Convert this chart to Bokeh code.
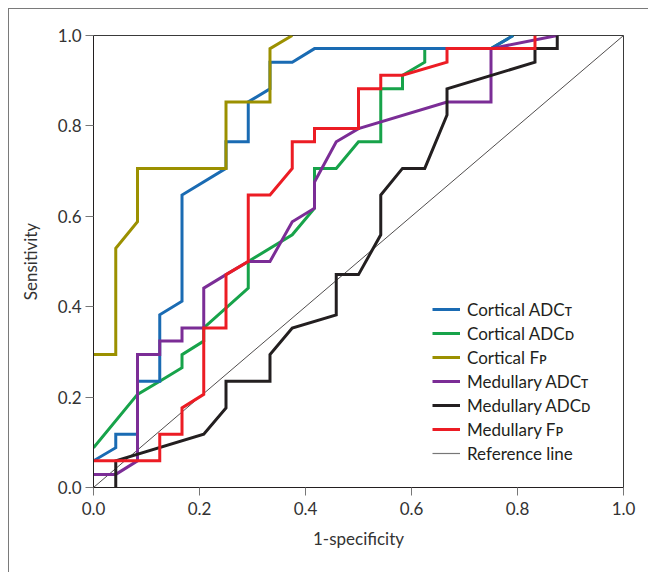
from bokeh.plotting import figure
from bokeh.models import Range1d, FixedTicker, Legend, LegendItem, NumeralTickFormatter
from bokeh.embed import file_html
from bokeh.resources import INLINE

# ---- data ----
tick_values = [0.0, 0.2, 0.4, 0.6, 0.8, 1.0]

cort_adct_x = [0, 0.042, 0.042, 0.083, 0.083, 0.125, 0.125, 0.167, 0.167, 0.25, 0.25, 0.292, 0.292, 0.333, 0.333, 0.375, 0.417, 0.75, 0.792]
cort_adct_y = [0.059, 0.088, 0.118, 0.118, 0.235, 0.235, 0.382, 0.412, 0.647, 0.706, 0.765, 0.765, 0.853, 0.882, 0.941, 0.941, 0.971, 0.971, 1.0]

cort_adcd_x = [0, 0.083, 0.125, 0.167, 0.167, 0.208, 0.208, 0.292, 0.292, 0.375, 0.417, 0.417, 0.458, 0.5, 0.542, 0.542, 0.583, 0.583, 0.625, 0.625, 0.75, 0.792]
cort_adcd_y = [0.088, 0.206, 0.235, 0.265, 0.294, 0.324, 0.353, 0.441, 0.5, 0.559, 0.618, 0.706, 0.706, 0.765, 0.765, 0.882, 0.882, 0.912, 0.941, 0.971, 0.971, 1.0]

cort_fp_x = [0, 0.042, 0.042, 0.083, 0.083, 0.25, 0.25, 0.333, 0.333, 0.375]
cort_fp_y = [0.294, 0.294, 0.529, 0.588, 0.706, 0.706, 0.853, 0.853, 0.971, 1.0]

med_adct_x = [0, 0.042, 0.083, 0.083, 0.125, 0.125, 0.167, 0.167, 0.208, 0.208, 0.25, 0.292, 0.333, 0.375, 0.417, 0.417, 0.458, 0.5, 0.667, 0.75, 0.75, 0.875]
med_adct_y = [0.029, 0.029, 0.059, 0.294, 0.294, 0.324, 0.324, 0.353, 0.353, 0.441, 0.471, 0.5, 0.5, 0.588, 0.618, 0.676, 0.765, 0.794, 0.853, 0.853, 0.971, 1.0]

med_adcd_x = [0.042, 0.042, 0.208, 0.25, 0.25, 0.333, 0.333, 0.375, 0.458, 0.458, 0.5, 0.542, 0.542, 0.583, 0.625, 0.667, 0.667, 0.833, 0.833, 0.875, 0.875]
med_adcd_y = [0, 0.059, 0.118, 0.176, 0.235, 0.235, 0.294, 0.353, 0.382, 0.471, 0.471, 0.559, 0.647, 0.706, 0.706, 0.824, 0.882, 0.941, 0.971, 0.971, 1.0]

med_fp_x = [0, 0.125, 0.125, 0.167, 0.167, 0.208, 0.208, 0.25, 0.25, 0.292, 0.292, 0.333, 0.375, 0.375, 0.417, 0.417, 0.5, 0.5, 0.542, 0.542, 0.583, 0.667, 0.667, 0.833, 0.833]
med_fp_y = [0.059, 0.059, 0.118, 0.118, 0.176, 0.206, 0.353, 0.353, 0.471, 0.5, 0.647, 0.647, 0.706, 0.765, 0.765, 0.794, 0.794, 0.882, 0.882, 0.912, 0.912, 0.941, 0.971, 0.971, 1.0]

ref_x = [0, 1]
ref_y = [0, 1]

labels = ["Cortical ADC\u1d1b", "Cortical ADC\u1d05", "Cortical F\u1d18",
          "Medullary ADC\u1d1b", "Medullary ADC\u1d05", "Medullary F\u1d18", "Reference line"]

FONT = "Lato"

p = figure(width=640, height=564, x_range=Range1d(0, 1), y_range=Range1d(0, 1),
           output_backend="svg", toolbar_location=None,
           min_border_left=84, min_border_right=26, min_border_top=26, min_border_bottom=86)
p.styles = {"border-left": "1px solid #7a7a7a", "border-top": "1px solid #7a7a7a",
            "margin-left": "8px", "margin-top": "8px"}

p.xgrid.visible = False
p.ygrid.visible = False
p.outline_line_color = "#3a3a3a"
p.outline_line_width = 1
p.background_fill_color = "white"
p.border_fill_color = "white"

for ax in (p.xaxis[0], p.yaxis[0]):
    ax.ticker = FixedTicker(ticks=tick_values)
    ax.formatter = NumeralTickFormatter(format="0.0")
    ax.minor_tick_line_color = None
    ax.axis_line_color = "#231f20"
    ax.axis_line_width = 1
    ax.major_tick_line_color = "#777777"
    ax.major_tick_in = 0
    ax.major_tick_out = 8
    ax.major_label_text_font = FONT
    ax.major_label_text_font_size = "17px"
    ax.major_label_text_color = "#333333"
    ax.axis_label_text_font = FONT
    ax.axis_label_text_font_size = "17px"
    ax.axis_label_text_font_style = "normal"
    ax.axis_label_text_color = "#333333"

p.xaxis[0].axis_label = "1-specificity"
p.yaxis[0].axis_label = "Sensitivity"
p.xaxis[0].major_label_standoff = 6
p.yaxis[0].major_label_standoff = 4
p.xaxis[0].axis_label_standoff = 10
p.yaxis[0].axis_label_standoff = 14

lw = 3
r_ref = p.line(ref_x, ref_y, line_color="#231f20", line_width=0.8)
r_g = p.line(cort_adcd_x, cort_adcd_y, line_color="#17a34a", line_width=lw, line_join="miter")
r_b = p.line(cort_adct_x, cort_adct_y, line_color="#1a6bb3", line_width=lw, line_join="miter")
r_o = p.line(cort_fp_x, cort_fp_y, line_color="#9b9000", line_width=lw, line_join="miter")
r_p = p.line(med_adct_x, med_adct_y, line_color="#7b2d96", line_width=lw, line_join="miter")
r_k = p.line(med_adcd_x, med_adcd_y, line_color="#231f20", line_width=lw, line_join="miter")
r_r = p.line(med_fp_x, med_fp_y, line_color="#ec1c24", line_width=lw, line_join="miter")

r_ref_leg = p.line(ref_x, ref_y, line_color="#777777", line_width=1.2, visible=False)

items = [LegendItem(label=labels[0], renderers=[r_b]),
         LegendItem(label=labels[1], renderers=[r_g]),
         LegendItem(label=labels[2], renderers=[r_o]),
         LegendItem(label=labels[3], renderers=[r_p]),
         LegendItem(label=labels[4], renderers=[r_k]),
         LegendItem(label=labels[5], renderers=[r_r]),
         LegendItem(label=labels[6], renderers=[r_ref_leg])]

legend = Legend(items=items, location=(339, 22), padding=0, margin=0, spacing=0,
                glyph_width=28, glyph_height=24, label_height=24, label_standoff=7,
                label_text_font=FONT, label_text_font_size="17px", label_text_color="#231f20",
                border_line_color=None, background_fill_alpha=0)
p.add_layout(legend, "center")

open("out.html", "w").write(file_html(p, INLINE))
